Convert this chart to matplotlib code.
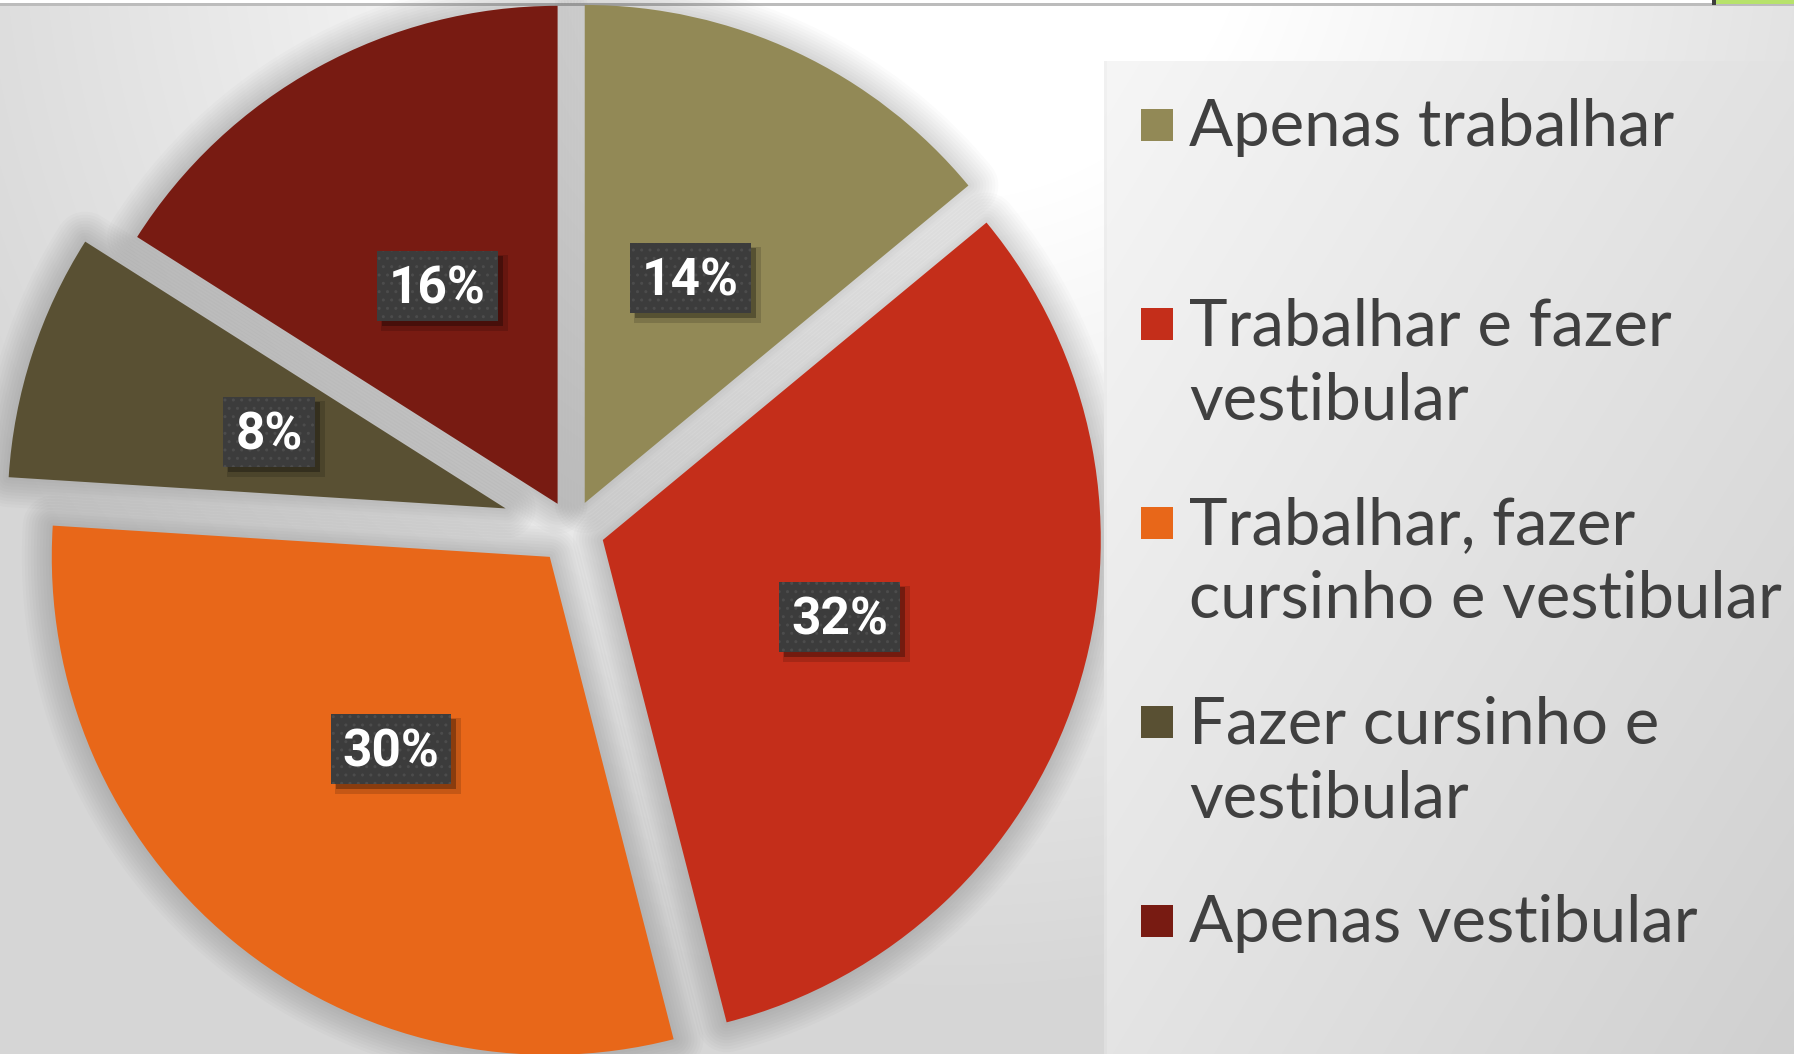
import numpy as np
import matplotlib
matplotlib.use('Agg')
import matplotlib.pyplot as plt
from matplotlib.patches import Rectangle
from matplotlib.transforms import offset_copy

# ---------------- data ----------------
categories = ["Apenas trabalhar",
              "Trabalhar e fazer\nvestibular",
              "Trabalhar, fazer\ncursinho e vestibular",
              "Fazer cursinho e\nvestibular",
              "Apenas vestibular"]
values = [14, 32, 30, 8, 16]
pct_labels = ["14%", "32%", "30%", "8%", "16%"]
colors = ["#928956", "#c42e1a", "#e86719", "#595033", "#781b12"]
explode = [0.06, 0.065, 0.07, 0.14, 0.06]

W, H = 1794, 1054
fig = plt.figure(figsize=(W / 100, H / 100), dpi=100)

# ---------------- background ----------------
bg = fig.add_axes([0, 0, 1, 1], zorder=0)
yy, xx = np.mgrid[0:H, 0:W]
d = np.hypot(xx - 950, yy + 100)
b = 1.0 - 0.16 * np.clip((d - 300) / 800, 0, 1)
b[0:3, :] = 1.0
b[3:6, :] = 0.74
img = np.dstack([b, b, b])
img[0:4, 1716:] = [0.72, 0.89, 0.42]
img[0:5, 1712:1716] = [0.25, 0.25, 0.25]
bg.imshow(img, extent=(0, W, H, 0), aspect='auto', interpolation='bilinear')
bg.set_xlim(0, W)
bg.set_ylim(H, 0)
bg.axis('off')

# ---------------- pie ----------------
ax = fig.add_axes([0, 0, 1, 1], zorder=1)
ax.patch.set_alpha(0)
R = 498.0
cx, cy = 572.0, 530.0

# soft shadow halo
for lw_px in [6, 12, 18, 24, 30, 36, 42, 48, 54, 60]:
    ax.pie(values, startangle=90, counterclock=False, explode=explode,
           wedgeprops=dict(facecolor='none', edgecolor=(0, 0, 0, 0.014),
                           linewidth=lw_px * 0.72, joinstyle='round'))

wedges, _, autotexts = ax.pie(values, startangle=90, counterclock=False,
                              explode=explode, colors=colors,
                              autopct='%1.0f%%', pctdistance=0.5,
                              wedgeprops=dict(linewidth=0))
positions = [t.get_position() for t in autotexts]
for t in autotexts:
    t.set_visible(False)

ax.set_xlim(-cx / R, (W - cx) / R)
ax.set_ylim(-(H - cy) / R, cy / R)
ax.set_aspect('auto')
ax.axis('off')

label_font = ['Roboto', 'DejaVu Sans']
trans = offset_copy(ax.transData, fig=fig, x=0, y=-18, units='dots')
texts = []
for (x, y), lab in zip(positions, pct_labels):
    t = ax.text(x, y, lab, transform=trans, ha='center', va='baseline',
                color='white', fontsize=37, fontweight='bold',
                family=label_font, zorder=6)
    texts.append(t)

fig.canvas.draw()
renderer = fig.canvas.get_renderer()
inv = ax.transData.inverted()
for (x, y), t in zip(positions, texts):
    ext = t.get_window_extent(renderer)
    wpx = ext.width + 24
    hpx = 70
    px, py = ax.transData.transform((x, y))
    for off, al, grow in [(7, 0.15, 3), (5, 0.3, 0)]:
        (x0, y0) = inv.transform((px - wpx / 2 + off - grow, py - hpx / 2 - off - grow))
        (x1, y1) = inv.transform((px + wpx / 2 + off + grow, py + hpx / 2 - off + grow))
        ax.add_patch(Rectangle((x0, y0), x1 - x0, y1 - y0, facecolor=(0, 0, 0, al),
                               edgecolor='none', zorder=4))
    (x0, y0) = inv.transform((px - wpx / 2, py - hpx / 2))
    (x1, y1) = inv.transform((px + wpx / 2, py + hpx / 2))
    ax.add_patch(Rectangle((x0, y0), x1 - x0, y1 - y0, facecolor='#3c3c3c',
                           edgecolor='#4c4c4c', linewidth=0, hatch='..', zorder=5))

# ---------------- legend panel ----------------
lg = fig.add_axes([0, 0, 1, 1], zorder=2)
lg.patch.set_alpha(0)
px0, py0 = 1104, 61
pyy, pxx = np.mgrid[py0:H, px0:W]
pb = 0.965 - 0.08 * (pxx - px0) / (W - px0) - 0.07 * (pyy - py0) / (H - py0)
pb[:, 0:3] -= 0.02
lg.imshow(np.dstack([pb, pb, pb]), extent=(px0, W, H, py0), aspect='auto',
          interpolation='bilinear')
lg.set_xlim(0, W)
lg.set_ylim(H, 0)
lg.axis('off')

legend_font = ['Lato', 'DejaVu Sans']
for i, (cat, col) in enumerate(zip(categories, colors)):
    top = 109 + 199 * i
    lg.add_patch(Rectangle((1141, top), 32, 32, facecolor=col, edgecolor='none', zorder=3))
    base = 146 + 199 * i
    for j, line in enumerate(cat.split('\n')):
        lg.text(1189, base + 74 * j, line, ha='left', va='baseline',
                fontsize=47, color='#404040', family=legend_font, zorder=3)

fig.savefig('out.png', dpi=100)
